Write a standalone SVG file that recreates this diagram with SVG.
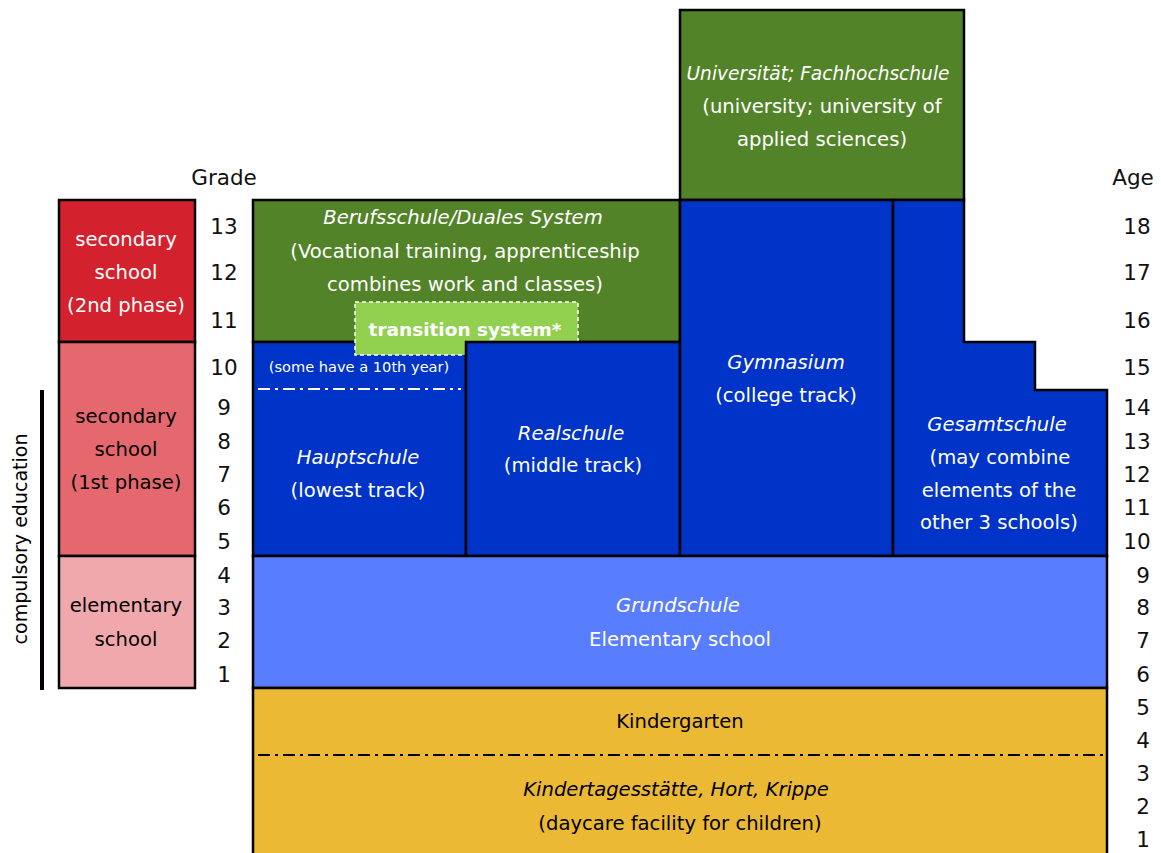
<svg xmlns="http://www.w3.org/2000/svg" width="1161" height="853" viewBox="0 0 1161 853">
<style>
text{font-family:"DejaVu Sans","Liberation Sans",sans-serif;font-size:19.6px;text-anchor:middle}
.w{fill:#fff}
.k{fill:#000}
.i{font-style:italic}
.n{font-size:21.5px;fill:#111}
.box{stroke:#000;stroke-width:2.5}
</style>
<rect width="1161" height="853" fill="#fff"/>
<g id="university"><rect class="box" x="680" y="10" width="284" height="190" fill="#538328"/>
<text class="w i" x="818" y="80" style="font-size:18.6px">Universität; Fachhochschule</text>
<text class="w" x="822" y="113">(university; university of</text>
<text class="w" x="822" y="146">applied sciences)</text></g>
<g id="berufsschule"><rect class="box" x="253" y="200" width="427" height="142" fill="#538328"/>
<text class="w i" x="463" y="224">Berufsschule/Duales System</text>
<text class="w" x="465" y="258">(Vocational training, apprenticeship</text>
<text class="w" x="465" y="291">combines work and classes)</text></g>
<g id="hauptschule"><rect class="box" x="253" y="342" width="213" height="214" fill="#0033C8"/>
<text class="w" x="359" y="372" style="font-size:14.6px">(some have a 10th year)</text>
<line x1="258" y1="389" x2="461" y2="389" stroke="#fff" stroke-width="2" stroke-dasharray="12,5,3,5"/>
<text class="w i" x="358" y="464">Hauptschule</text>
<text class="w" x="358" y="497">(lowest track)</text></g>
<g id="transition"><rect x="355" y="302" width="223" height="53" fill="#92D050" stroke="#fff" stroke-width="1.5" stroke-dasharray="4,3"/>
<text class="w" x="465" y="336" style="font-weight:bold;font-size:18.5px">transition system*</text></g>
<g id="realschule"><rect class="box" x="466" y="342" width="214" height="214" fill="#0033C8"/>
<text class="w i" x="571" y="440">Realschule</text>
<text class="w" x="573" y="472">(middle track)</text></g>
<g id="gymnasium"><rect class="box" x="680" y="200" width="213" height="356" fill="#0033C8"/>
<text class="w i" x="786" y="369">Gymnasium</text>
<text class="w" x="786" y="402">(college track)</text></g>
<g id="gesamtschule"><path class="box" d="M893 200H964V342H1035V390H1107V556H893Z" fill="#0033C8"/>
<text class="w i" x="997" y="431">Gesamtschule</text>
<text class="w" x="1000" y="464">(may combine</text>
<text class="w" x="999" y="497">elements of the</text>
<text class="w" x="999" y="529">other 3 schools)</text></g>
<g id="grundschule"><rect class="box" x="253" y="556" width="854" height="132" fill="#587DFF"/>
<text class="w i" x="678" y="612">Grundschule</text>
<text class="w" x="680" y="646">Elementary school</text></g>
<g id="kindergarten"><rect class="box" x="253" y="688" width="854" height="170" fill="#EBB933"/>
<line x1="258" y1="755" x2="1105" y2="755" stroke="#000" stroke-width="2" stroke-dasharray="12,5,3,5"/>
<text class="k" x="680" y="728">Kindergarten</text>
<text class="k i" x="676" y="796">Kindertagesstätte, Hort, Krippe</text>
<text class="k" x="680" y="830">(daycare facility for children)</text></g>
<g id="sec2"><rect class="box" x="59" y="200" width="136" height="142" fill="#D3222D"/>
<text class="w" x="126" y="246">secondary</text>
<text class="w" x="126" y="279">school</text>
<text class="w" x="126" y="312">(2nd phase)</text></g>
<g id="sec1"><rect class="box" x="59" y="342" width="136" height="214" fill="#E5686E"/>
<text class="k" x="126" y="423">secondary</text>
<text class="k" x="126" y="456">school</text>
<text class="k" x="126" y="489">(1st phase)</text></g>
<g id="elem"><rect class="box" x="59" y="556" width="136" height="132" fill="#F0A8AC"/>
<text class="k" x="126" y="612">elementary</text>
<text class="k" x="126" y="646">school</text></g>
<g id="compulsory"><line x1="42" y1="390" x2="42" y2="690" stroke="#000" stroke-width="4"/>
<text class="k" transform="translate(27,539) rotate(-90)" style="font-size:19px">compulsory education</text></g>
<g id="labels">
<text class="n" x="224" y="185">Grade</text>
<text class="n" x="1133" y="185">Age</text>
<text class="n" x="224" y="234">13</text><text class="n" x="224" y="280">12</text><text class="n" x="224" y="328">11</text><text class="n" x="224" y="375">10</text><text class="n" x="224" y="415">9</text><text class="n" x="224" y="449">8</text><text class="n" x="224" y="482">7</text><text class="n" x="224" y="515">6</text><text class="n" x="224" y="549">5</text><text class="n" x="224" y="583">4</text><text class="n" x="224" y="615">3</text><text class="n" x="224" y="648">2</text><text class="n" x="224" y="682">1</text>
<text class="n" x="1137" y="234">18</text><text class="n" x="1137" y="280">17</text><text class="n" x="1137" y="328">16</text><text class="n" x="1137" y="375">15</text><text class="n" x="1137" y="415">14</text><text class="n" x="1137" y="449">13</text><text class="n" x="1137" y="482">12</text><text class="n" x="1137" y="515">11</text><text class="n" x="1137" y="549">10</text><text class="n" x="1143" y="583">9</text><text class="n" x="1143" y="615">8</text><text class="n" x="1143" y="648">7</text><text class="n" x="1143" y="682">6</text><text class="n" x="1143" y="715">5</text><text class="n" x="1143" y="748">4</text><text class="n" x="1143" y="781">3</text><text class="n" x="1143" y="814">2</text><text class="n" x="1143" y="847">1</text>
</g>
</svg>
